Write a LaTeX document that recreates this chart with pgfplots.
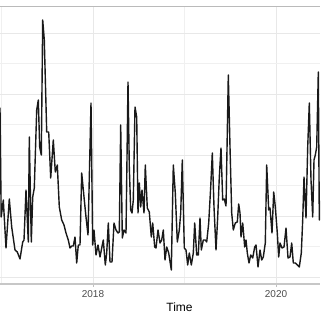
\documentclass[border=0pt]{standalone}
\usepackage{fontspec}
\setmainfont{Liberation Sans}
\usepackage{pgfplots}
\usepackage{pgfplotstable}
\pgfplotsset{compat=1.18}
\pgfplotstableread{
px v
-1.8 90
0 212
1.2 103
3.3 120
6 72
9.3 121
11.7 93
15 70
17.3 68
20 61
22.7 78
24 80
26 130
28.3 78
29.3 183
31.3 78
32.7 123
34.3 132
36.7 210
38.3 220
39.7 173
41.3 165
42.7 300
44.3 280
46.7 188
48.7 188
50.7 142
53.3 180
55.3 148
57.3 155
59.3 113
61.7 100
64 95
66 87
68.3 80
70 72
71.7 74
73.3 74
75 83
76.7 57
78.3 75
80 75
81.7 147
84 123
86 103
88 85
91 217
92.7 75
94 90
96 65
98 75
100 63
101.7 72
103.3 80
105.3 55
106.7 67
108.3 97
110 58
112 58
114 97
116 90
118 87
119.3 88
120.7 195
122.3 82
124 90
126 87
128 238
129.3 153
130.7 110
132 107
133.3 120
135 213
136.7 203
138 107
139.3 137
140.7 113
142 130
144 107
145.3 155
147.3 112
149.3 108
151.3 83
152.7 97
154.7 73
156 72
158 90
160 77
161.7 80
163.3 90
165 60
166.7 73
168.7 67
171.3 50
173.3 155
175.3 127
177.3 78
179.3 90
180.7 107
182.3 160
184.3 72
186 70
187.7 55
189.3 67
191.3 55
193.3 67
194.7 97
196.7 65
198.3 65
200 102
201.3 70
203.3 80
205.3 80
206.7 78
208.7 97
210.7 133
212.3 167
214 113
216 70
217.7 103
219.3 143
221 172
222.7 120
224.3 121
226 114
228.3 245
230 173
231.7 107
233.3 90
235.3 97
237.3 98
238.7 116
240 107
241 83
242.7 97
244.7 73
246 80
247.3 67
249 57
250.7 65
252.7 62
254.7 73
256 75
258 53
260 70
261.7 60
263.3 63
265.3 77
266.7 155
268.7 110
270 112
272 87
273.7 128
275.3 113
277.3 87
278.7 63
280 77
282 72
284 73
286 92
288 62
290 63
291.7 77
293.3 57
295.3 57
297.3 55
299.3 53
301.3 67
302.7 100
304 143
306 102
307.7 173
309.3 217
311 140
312.7 103
314 160
315.3 165
316.7 173
318.3 248
319.3 100
321 120
}\series
\begin{document}
\begin{tikzpicture}
\begin{axis}[
  x=1pt, y=1pt,
  xmin=0, xmax=320, ymin=36, ymax=314,
  axis line style={draw=none},
  xtick={93,276}, xticklabels={2018,2020},
  minor xtick={1.5,184.5},
  ytick={43,104,165,226,287},
  minor ytick={73.5,134.5,195.5,256.5},
  yticklabels={},
  y tick style={draw=none},
  xtick pos=bottom,
  tick align=outside,
  x tick style={draw=black!25, line width=0.8pt},
  major tick length=2.5pt, minor tick length=0pt,
  grid=both,
  major grid style={draw=black!9, line width=0.7pt},
  minor grid style={draw=black!6, line width=0.5pt},
  tick label style={font=\fontsize{10}{12}\selectfont, text=black!70},
  /pgf/number format/assume math mode=true,
  xlabel={Time},
  xlabel style={font=\fontsize{12}{14}\selectfont, at={(axis description cs:0.561,0)}, anchor=north, yshift=-15.7pt},
]
\addplot[black!90, line width=1.4pt, line join=round, mark=none] table[x=px, y=v] {\series};
\coordinate (BL) at (axis cs:0,0);
\coordinate (TR) at (axis cs:320,320);
\coordinate (AL) at (axis cs:0,36);
\coordinate (AR) at (axis cs:320,36);
\coordinate (TL) at (axis cs:0,314);
\coordinate (TRR) at (axis cs:320,314);
\end{axis}
\draw[black!27, line width=0.6pt] (TL) -- (TRR);
\draw[black!22, line width=1.6pt] (AL) -- (AR);
\pgfresetboundingbox
\useasboundingbox (BL) rectangle (TR);
\end{tikzpicture}
\end{document}
